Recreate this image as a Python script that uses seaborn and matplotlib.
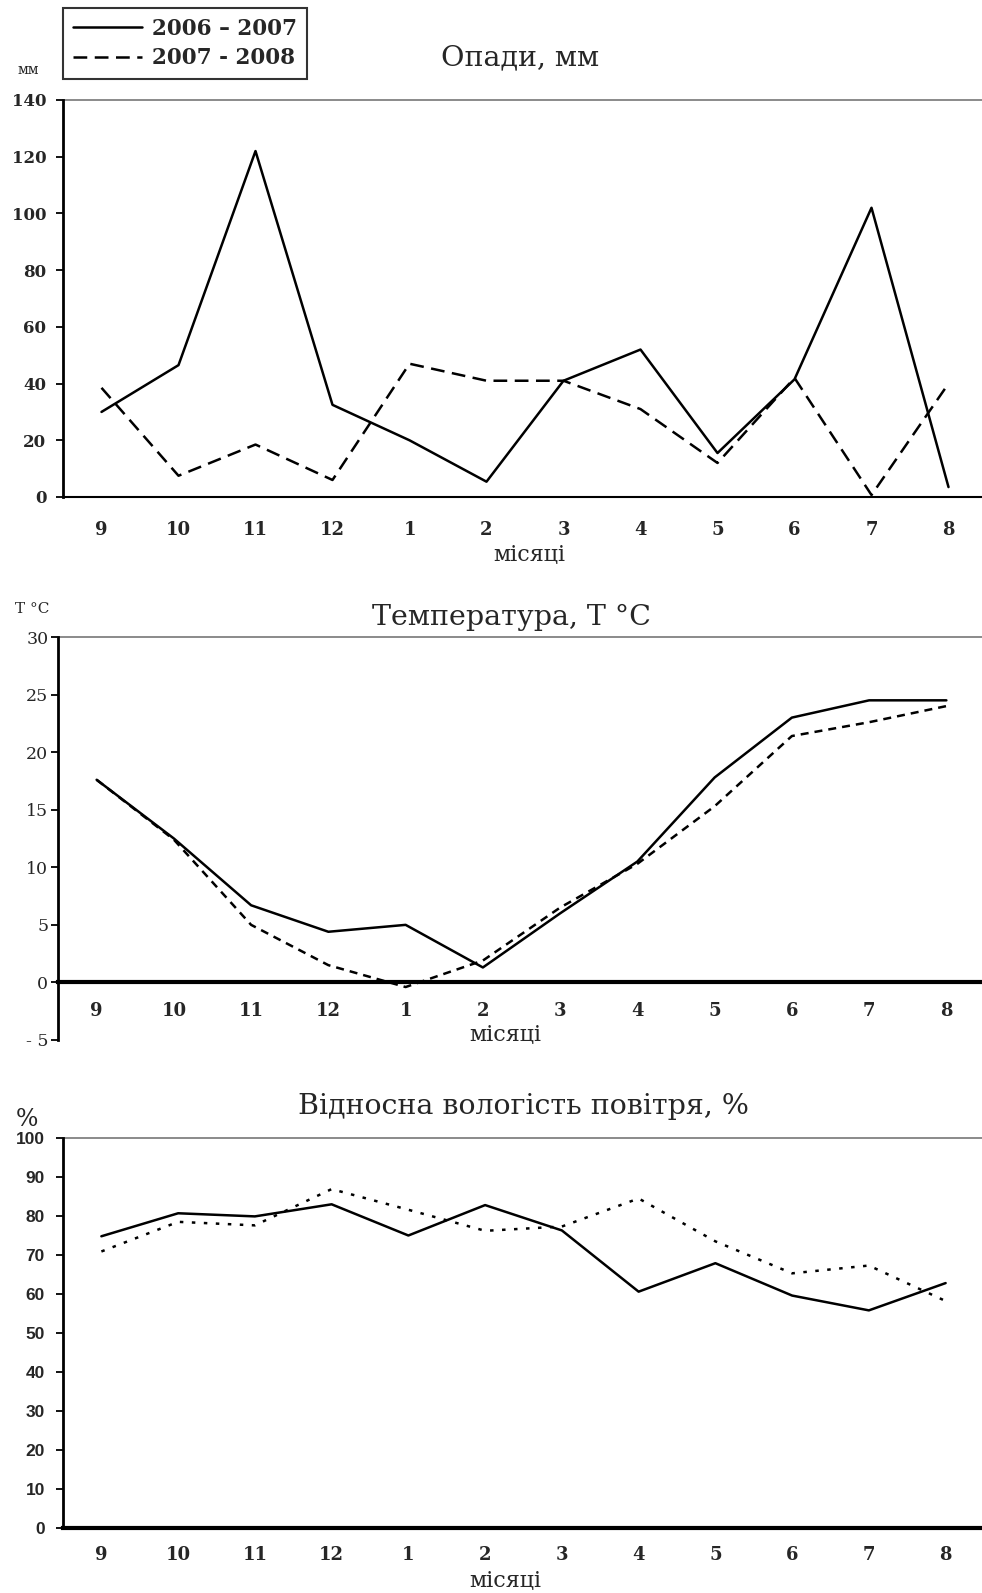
import numpy as np
import pandas as pd
import matplotlib
matplotlib.use('Agg')
import matplotlib.pyplot as plt
import seaborn as sns

months = ['9', '10', '11', '12', '1', '2', '3', '4', '5', '6', '7', '8']
seasons = ['2006 – 2007', '2007 - 2008']

# опади, мм
rain_0607 = [30, 46.5, 122, 32.5, 20, 5.4, 41, 52, 15.5, 41.5, 102, 3.5]
rain_0708 = [38.5, 7.5, 18.5, 6, 47, 41, 41, 31, 12, 42, 0.7, 40]
# температура, °C
temp_0607 = [17.6, 12.5, 6.7, 4.4, 5.0, 1.3, 6.0, 10.5, 17.8, 23.0, 24.5, 24.5]
temp_0708 = [17.6, 12.4, 5.0, 1.5, -0.4, 1.9, 6.5, 10.3, 15.3, 21.4, 22.6, 24.0]
# відносна вологість, %
hum_0607 = [74.8, 80.7, 79.9, 83, 75, 82.8, 76.3, 60.6, 67.9, 59.6, 55.8, 62.8]
hum_0708 = [70.9, 78.5, 77.6, 86.9, 81.6, 76.2, 77.3, 84.5, 73.5, 65.3, 67.3, 58.2]

sns.set_style('white')
plt.rcParams['font.family'] = ['DejaVu Serif']

fig = plt.figure(figsize=(9.82, 15.93), dpi=100)
W, H = 982.0, 1593.0


def make_df(a, b):
    x = np.arange(len(months))
    return pd.DataFrame({'x': np.concatenate([x, x]),
                         'value': a + b,
                         'season': [seasons[0]] * len(a) + [seasons[1]] * len(b)})


def panel(rect, a, b, dash, ylim, yticks, ylabels, yfont, bottom_lw, pad, ypad):
    left, right, top, bottom = rect
    ax = fig.add_axes([left / W, 1 - bottom / H, (right - left) / W, (bottom - top) / H])
    sns.lineplot(data=make_df(a, b), x='x', y='value', style='season',
                 dashes={seasons[0]: '', seasons[1]: dash}, color='black',
                 linewidth=1.8, ax=ax, legend=False)
    ax.set_xlabel('')
    ax.set_ylabel('')
    # spines first: set_position resets the ticks
    for s in ['top', 'right']:
        ax.spines[s].set_visible(False)
    ax.spines['left'].set_color('black')
    ax.spines['left'].set_linewidth(2)
    ax.spines['bottom'].set_position(('data', 0))
    ax.spines['bottom'].set_color('black')
    ax.spines['bottom'].set_linewidth(bottom_lw)
    ax.set_xlim(-0.5, len(months) - 0.5)
    ax.set_ylim(*ylim)
    ax.set_xticks(np.arange(len(months) + 1) - 0.5, minor=True)
    ax.set_xticks(np.arange(len(months)))
    ax.set_xticklabels(months, fontsize=13, fontweight='bold', family='DejaVu Serif')
    ax.tick_params(axis='x', which='major', length=0, pad=pad)
    ax.tick_params(axis='x', which='minor', length=8, width=1.3, color='black', direction='out')
    ax.set_yticks(yticks)
    ax.set_yticklabels(ylabels, **yfont)
    ax.tick_params(axis='y', length=5, width=1.3, color='black', direction='out', pad=ypad, left=True)
    ax.axhline(ylim[1], color='#777777', lw=1.2, clip_on=False)
    return ax


ax1 = panel((63, 987, 100, 497), rain_0607, rain_0708, (5.5, 3.0), (0, 140),
            range(0, 141, 20), [str(v) for v in range(0, 141, 20)],
            dict(fontsize=12, fontweight='bold', family='DejaVu Serif'), 1.5, 17, 7)
ax2 = panel((58, 985, 637, 1040), temp_0607, temp_0708, (3.2, 2.4), (-5, 30),
            range(-5, 31, 5), ['- 5'] + [str(v) for v in range(0, 31, 5)],
            dict(fontsize=12.5, family='DejaVu Serif'), 3, 14, 2)
ax3 = panel((63, 984, 1138, 1528), hum_0607, hum_0708, (1.4, 3.4), (0, 100),
            range(0, 101, 10), [str(v) for v in range(0, 101, 10)],
            dict(fontsize=12.5, fontweight='bold', family='Liberation Sans'), 3, 13, 8)

# titles and labels
fig.text(520 / W, 1 - 58 / H, 'Опади, мм', ha='center', va='center', fontsize=20.5)
fig.text(511 / W, 1 - 617 / H, 'Температура, T °C', ha='center', va='center', fontsize=20.5)
fig.text(523 / W, 1 - 1107 / H, 'Відносна вологість повітря, %', ha='center', va='center', fontsize=20.5)
fig.text(28 / W, 1 - 70 / H, 'мм', ha='center', va='center', fontsize=10)
fig.text(32 / W, 1 - 609 / H, 'T °C', ha='center', va='center', fontsize=11)
fig.text(27 / W, 1 - 1119 / H, '%', ha='center', va='center', fontsize=17)
fig.text(529 / W, 1 - 555 / H, 'місяці', ha='center', va='center', fontsize=16)
fig.text(505 / W, 1 - 1035 / H, 'місяці', ha='center', va='center', fontsize=16)
fig.text(505 / W, 1 - 1581 / H, 'місяці', ha='center', va='center', fontsize=16)

# legend
h1 = plt.Line2D([], [], color='black', lw=1.8)
h2 = plt.Line2D([], [], color='black', lw=1.8, dashes=(5.5, 3.0))
leg = fig.legend([h1, h2], seasons, loc='upper left', bbox_to_anchor=(63 / W, 1 - 8 / H),
                 frameon=True, fancybox=False, handlelength=3.2, handletextpad=0.5,
                 borderpad=0.45, labelspacing=0.35, borderaxespad=0,
                 prop={'family': 'DejaVu Serif', 'weight': 'bold', 'size': 15.5})
leg.get_frame().set_edgecolor('black')
leg.get_frame().set_linewidth(1.5)

plt.savefig('out.png', dpi=100)
